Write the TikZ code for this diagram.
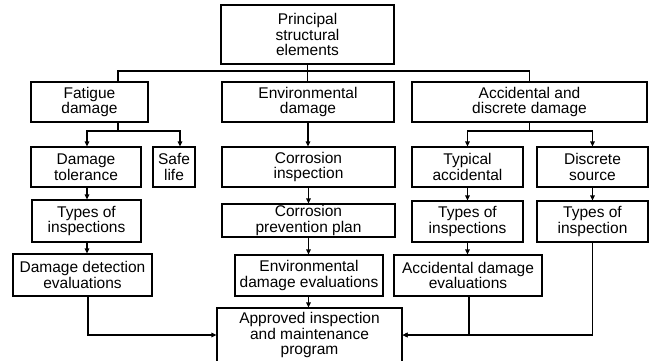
\documentclass[tikz,border=0pt]{standalone}
\usepackage{fontspec}
\setmainfont{Liberation Sans}
\usetikzlibrary{arrows.meta,calc}
\begin{document}
\begin{tikzpicture}[x=1pt,y=-1pt,
  box/.style={draw,line width=1.2pt,inner sep=0pt,align=center,font=\fontsize{15.5}{15.5}\selectfont},
  conn/.style={line width=1.2pt},
  arr/.style={conn,-{Triangle[length=5pt,width=4.5pt]}}]
\useasboundingbox (0,0) rectangle (652,360);
\clip (0,0) rectangle (652,360);
% row 1
\node[box,minimum width=173pt,minimum height=59pt] (P) at (307.5,34.5) {Principal\\structural\\elements};
% row 2
\node[box,minimum width=117pt,minimum height=40pt] (F) at (89.5,102) {Fatigue\\damage};
\node[box,minimum width=172pt,minimum height=40pt] (E) at (308,102) {Environmental\\damage};
\node[box,minimum width=235pt,minimum height=40pt] (A) at (529.5,102) {Accidental and\\discrete damage};
% row 3
\node[box,minimum width=110pt,minimum height=40pt] (DT) at (86,167) {Damage\\tolerance};
\node[box,minimum width=42pt,minimum height=40pt] (SL) at (174,167) {Safe\\life};
\node[box,minimum width=173pt,minimum height=40pt] (CI) at (308.5,167) {Corrosion\\inspection};
\node[box,minimum width=111pt,minimum height=40pt] (TA) at (467.5,167) {Typical\\accidental};
\node[box,minimum width=111pt,minimum height=40pt] (DS) at (592.5,167) {Discrete\\source};
% row 4
\node[box,minimum width=109pt,minimum height=42pt] (TI1) at (86.5,221) {Types of\\inspections};
\node[box,minimum width=173pt,minimum height=33pt] (CP) at (308.5,220.5) {Corrosion\\prevention plan};
\node[box,minimum width=111pt,minimum height=41pt] (TI2) at (467.5,221.5) {Types of\\inspections};
\node[box,minimum width=111pt,minimum height=41pt] (TI3) at (592.5,221.5) {Types of\\inspection};
% row 5
\node[box,minimum width=139pt,minimum height=42pt] (DDE) at (82.5,275) {Damage detection\\evaluations};
\node[box,minimum width=148pt,minimum height=41pt] (EDE) at (309,275.5) {Environmental\\damage evaluations};
\node[box,minimum width=148pt,minimum height=41pt] (ADE) at (468,275.5) {Accidental damage\\evaluations};
% bottom
\node[box,minimum width=185pt,minimum height=54pt] (AP) at (309.5,335) {Approved inspection\\and maintenance\\program};
% connectors
\coordinate (bus) at (308,71);
\draw[conn] (P.south) -- (P.south |- E.north);
\draw[conn] ([xshift=28.5pt]F.north) |- (P.south |- bus) -| (A.north);
\coordinate (fs) at (118,131);
\draw[conn] ([xshift=28.5pt]F.south) -- (fs);
\draw[arr] (fs) -| ([xshift=1pt]DT.north);
\draw[arr] (fs) -| ([xshift=6pt]SL.north);
\draw[arr] (E.south) -- (E.south |- CI.north);
\coordinate (as) at (529.5,131);
\draw[conn] (A.south) -- (as);
\draw[arr] (as) -| (TA.north);
\draw[arr] (as) -| (DS.north);
\draw[arr] ([xshift=1pt]DT.south) -- ([xshift=1pt]DT.south |- TI1.north);
\draw[arr] ([xshift=0.5pt]TI1.south) -- ([xshift=0.5pt]TI1.south |- DDE.north);
\draw[arr] (CI.south) -- (CI.south |- CP.north);
\draw[arr] (CP.south) -- (CP.south |- EDE.north);
\draw[arr] (CP.south |- EDE.south) -- (CP.south |- AP.north);
\draw[arr] (TA.south) -- (TA.south |- TI2.north);
\draw[arr] (DS.south) -- (DS.south |- TI3.north);
\draw[arr] (TI2.south) -- (TI2.south |- ADE.north);
\draw[arr] ([xshift=5.5pt]DDE.south) |- (AP.west);
\draw[arr] ([xshift=1pt]ADE.south) |- (AP.east);
\draw[arr] (TI3.south) |- (AP.east);
\end{tikzpicture}
\end{document}
